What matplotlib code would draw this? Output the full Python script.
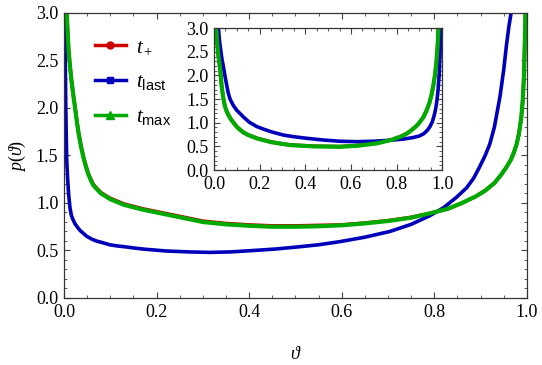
import matplotlib
matplotlib.use('Agg')
import matplotlib.pyplot as plt
from matplotlib.ticker import MultipleLocator, FormatStrFormatter
from matplotlib.lines import Line2D

matplotlib.rcParams.update({'font.family': 'serif',
                            'font.serif': ['Liberation Serif', 'DejaVu Serif'],
                            'mathtext.fontset': 'custom',
                            'mathtext.rm': 'Liberation Serif',
                            'mathtext.it': 'Liberation Serif:italic',
                            'mathtext.sf': 'Liberation Sans',
                            'font.size': 13})

# main panel
x_plus = [0.006, 0.008, 0.010, 0.013, 0.016, 0.020, 0.024, 0.028, 0.032, 0.037, 0.042, 0.047,
          0.052, 0.058, 0.063, 0.07, 0.08, 0.09, 0.10, 0.115, 0.13, 0.15, 0.17,
          0.21, 0.25, 0.30, 0.35, 0.40, 0.45, 0.50, 0.55, 0.60, 0.65, 0.70, 0.75, 0.79,
          0.83, 0.86, 0.89, 0.91, 0.93, 0.945, 0.955, 0.965, 0.972, 0.978, 0.983, 0.988,
          0.991, 0.994, 0.997]
y_plus = [3.0, 2.8, 2.62, 2.45, 2.3, 2.15, 2.01, 1.86, 1.73, 1.6, 1.49, 1.40,
          1.32, 1.25, 1.20, 1.16, 1.11, 1.08, 1.05, 1.02, 0.99, 0.965, 0.94,
          0.90, 0.86, 0.81, 0.785, 0.77, 0.76, 0.76, 0.765, 0.77, 0.79, 0.815, 0.85, 0.89,
          0.94, 1.0, 1.07, 1.13, 1.21, 1.30, 1.37, 1.45, 1.53, 1.62, 1.73, 1.9,
          2.07, 2.35, 3.0]

x_last = [0.002, 0.003, 0.004, 0.005, 0.006, 0.008, 0.010, 0.013, 0.016, 0.020, 0.024, 0.03,
          0.035, 0.042, 0.049, 0.06, 0.07, 0.085, 0.099, 0.115, 0.13, 0.15,
          0.171, 0.22, 0.27, 0.315, 0.36, 0.41, 0.456, 0.50, 0.55, 0.596, 0.65, 0.704,
          0.75, 0.79, 0.82, 0.848, 0.87, 0.885, 0.898, 0.91, 0.92, 0.93, 0.942, 0.95,
          0.956, 0.961, 0.966]
y_last = [3.0, 2.4, 2.0, 1.7, 1.45, 1.25, 1.10, 0.95, 0.87, 0.82, 0.78, 0.74,
          0.71, 0.68, 0.65, 0.62, 0.60, 0.58, 0.56, 0.548, 0.54, 0.527,
          0.515, 0.495, 0.485, 0.48, 0.485, 0.50, 0.515, 0.535, 0.56, 0.593, 0.64, 0.70,
          0.775, 0.865, 0.95, 1.06, 1.16, 1.26, 1.38, 1.50, 1.62, 1.80, 2.12, 2.4,
          2.66, 2.85, 3.0]

x_max = x_plus
y_max = [3.0, 2.8, 2.6, 2.44, 2.3, 2.14, 2.0, 1.85, 1.72, 1.59, 1.48, 1.39,
         1.31, 1.24, 1.19, 1.15, 1.10, 1.07, 1.04, 1.01, 0.98, 0.955, 0.93,
         0.89, 0.85, 0.80, 0.775, 0.76, 0.75, 0.75, 0.755, 0.765, 0.785, 0.81, 0.845, 0.89,
         0.94, 1.0, 1.07, 1.13, 1.21, 1.30, 1.37, 1.45, 1.53, 1.62, 1.73, 1.9,
         2.07, 2.35, 3.0]

# inset panel
xi_last = [0.019, 0.024, 0.03, 0.035, 0.041, 0.048, 0.055, 0.062, 0.07, 0.085, 0.10, 0.115,
           0.129, 0.155, 0.187, 0.22, 0.25, 0.304, 0.35, 0.40, 0.48,
           0.55, 0.626, 0.70, 0.772, 0.83, 0.87, 0.9, 0.92, 0.935, 0.947, 0.957, 0.965,
           0.972, 0.977, 0.982, 0.987, 0.991, 0.994]
yi_last = [3.0, 2.72, 2.5, 2.33, 2.18, 1.98, 1.8, 1.63, 1.5, 1.36, 1.26, 1.19,
           1.12, 1.01, 0.92, 0.86, 0.81, 0.74, 0.705, 0.675, 0.635,
           0.61, 0.60, 0.61, 0.63, 0.655, 0.685, 0.72, 0.77, 0.84, 0.92, 1.02, 1.15,
           1.3, 1.46, 1.68, 2.0, 2.45, 3.0]

xi_max = [0.009, 0.013, 0.018, 0.022, 0.026, 0.033, 0.041, 0.048, 0.055, 0.062, 0.07, 0.08,
          0.09, 0.1, 0.114, 0.13, 0.15, 0.187, 0.25, 0.333,
          0.44, 0.553, 0.63, 0.713, 0.78, 0.82, 0.845, 0.865, 0.885, 0.9, 0.918, 0.932,
          0.945, 0.955, 0.962, 0.969, 0.975, 0.98, 0.984]
yi_max = [3.0, 2.72, 2.45, 2.3, 2.15, 1.78, 1.5, 1.34, 1.24, 1.17, 1.1, 1.03,
          0.97, 0.91, 0.85, 0.79, 0.74, 0.67, 0.59, 0.528,
          0.50, 0.493, 0.515, 0.564, 0.64, 0.71, 0.77, 0.84, 0.92, 1.0, 1.12, 1.26,
          1.43, 1.62, 1.8, 2.02, 2.28, 2.6, 3.0]
xi_plus = xi_max
yi_plus = [3.0, 2.73, 2.46, 2.31, 2.16, 1.79, 1.51, 1.35, 1.25, 1.18, 1.11, 1.04,
           0.98, 0.92, 0.855, 0.795, 0.745, 0.675, 0.595, 0.533,
           0.505, 0.498, 0.52, 0.57, 0.645, 0.715, 0.775, 0.845, 0.925, 1.0, 1.12, 1.26,
           1.43, 1.62, 1.8, 2.02, 2.28, 2.6, 3.0]

col_plus = '#cc0000'
col_last = '#0000bb'
col_max = '#00aa00'


def style_axes(ax):
    ax.set_xlim(0, 1)
    ax.set_ylim(0, 3)
    ax.xaxis.set_major_locator(MultipleLocator(0.2))
    ax.xaxis.set_minor_locator(MultipleLocator(0.05))
    ax.yaxis.set_major_locator(MultipleLocator(0.5))
    ax.yaxis.set_minor_locator(MultipleLocator(0.1))
    ax.tick_params(which='both', direction='in', top=True, right=True, colors='#444444',
                   labelcolor='black', labelsize=13)
    ax.tick_params(which='major', length=4.5, width=0.8, pad=4)
    ax.tick_params(which='minor', length=2.5, width=0.6)
    ax.xaxis.set_major_formatter(FormatStrFormatter('%.1f'))
    ax.yaxis.set_major_formatter(FormatStrFormatter('%.1f'))
    for lab in ax.get_xticklabels() + ax.get_yticklabels():
        lab.set_fontfamily('Liberation Serif')
    for s in ax.spines.values():
        s.set_color('#333333')
        s.set_linewidth(0.9)


fig = plt.figure(figsize=(5.42, 3.65), dpi=100)
ax = fig.add_axes([0.118, 0.1836, 0.854, 0.7808])
ax.plot(x_plus, y_plus, color=col_plus, lw=2.5)
ax.plot(x_last, y_last, color=col_last, lw=2.6)
ax.plot(x_max, y_max, color=col_max, lw=3)
style_axes(ax)
ax.set_xlabel(r'$\vartheta$', fontsize=13, labelpad=18)
ax.set_ylabel(r'$p(\vartheta)$', fontsize=13, labelpad=6)

# legend with a marker in the middle of each line
handles = [Line2D([0], [0], color=col_plus, lw=2.5, marker='o', ms=5),
           Line2D([0], [0], color=col_last, lw=2.5, marker='s', ms=4.5),
           Line2D([0], [0], color=col_max, lw=2.5, marker='^', ms=5.5)]
labels = [r'$t_+$', r'$t_{\mathsf{last}}$', r'$t_{\mathsf{max}}$']
ax.legend(handles, labels, loc='upper left', bbox_to_anchor=(0.066, 0.915), frameon=False,
          fontsize=15, handlelength=1.5, handletextpad=0.5, labelspacing=0.75,
          borderpad=0, borderaxespad=0)

ins = fig.add_axes([0.395, 0.534, 0.4207, 0.389])
ins.plot(xi_plus, yi_plus, color=col_plus, lw=2.5)
ins.plot(xi_last, yi_last, color=col_last, lw=2.6)
ins.plot(xi_max, yi_max, color=col_max, lw=3)
style_axes(ins)

fig.savefig('out.png', dpi=100)
